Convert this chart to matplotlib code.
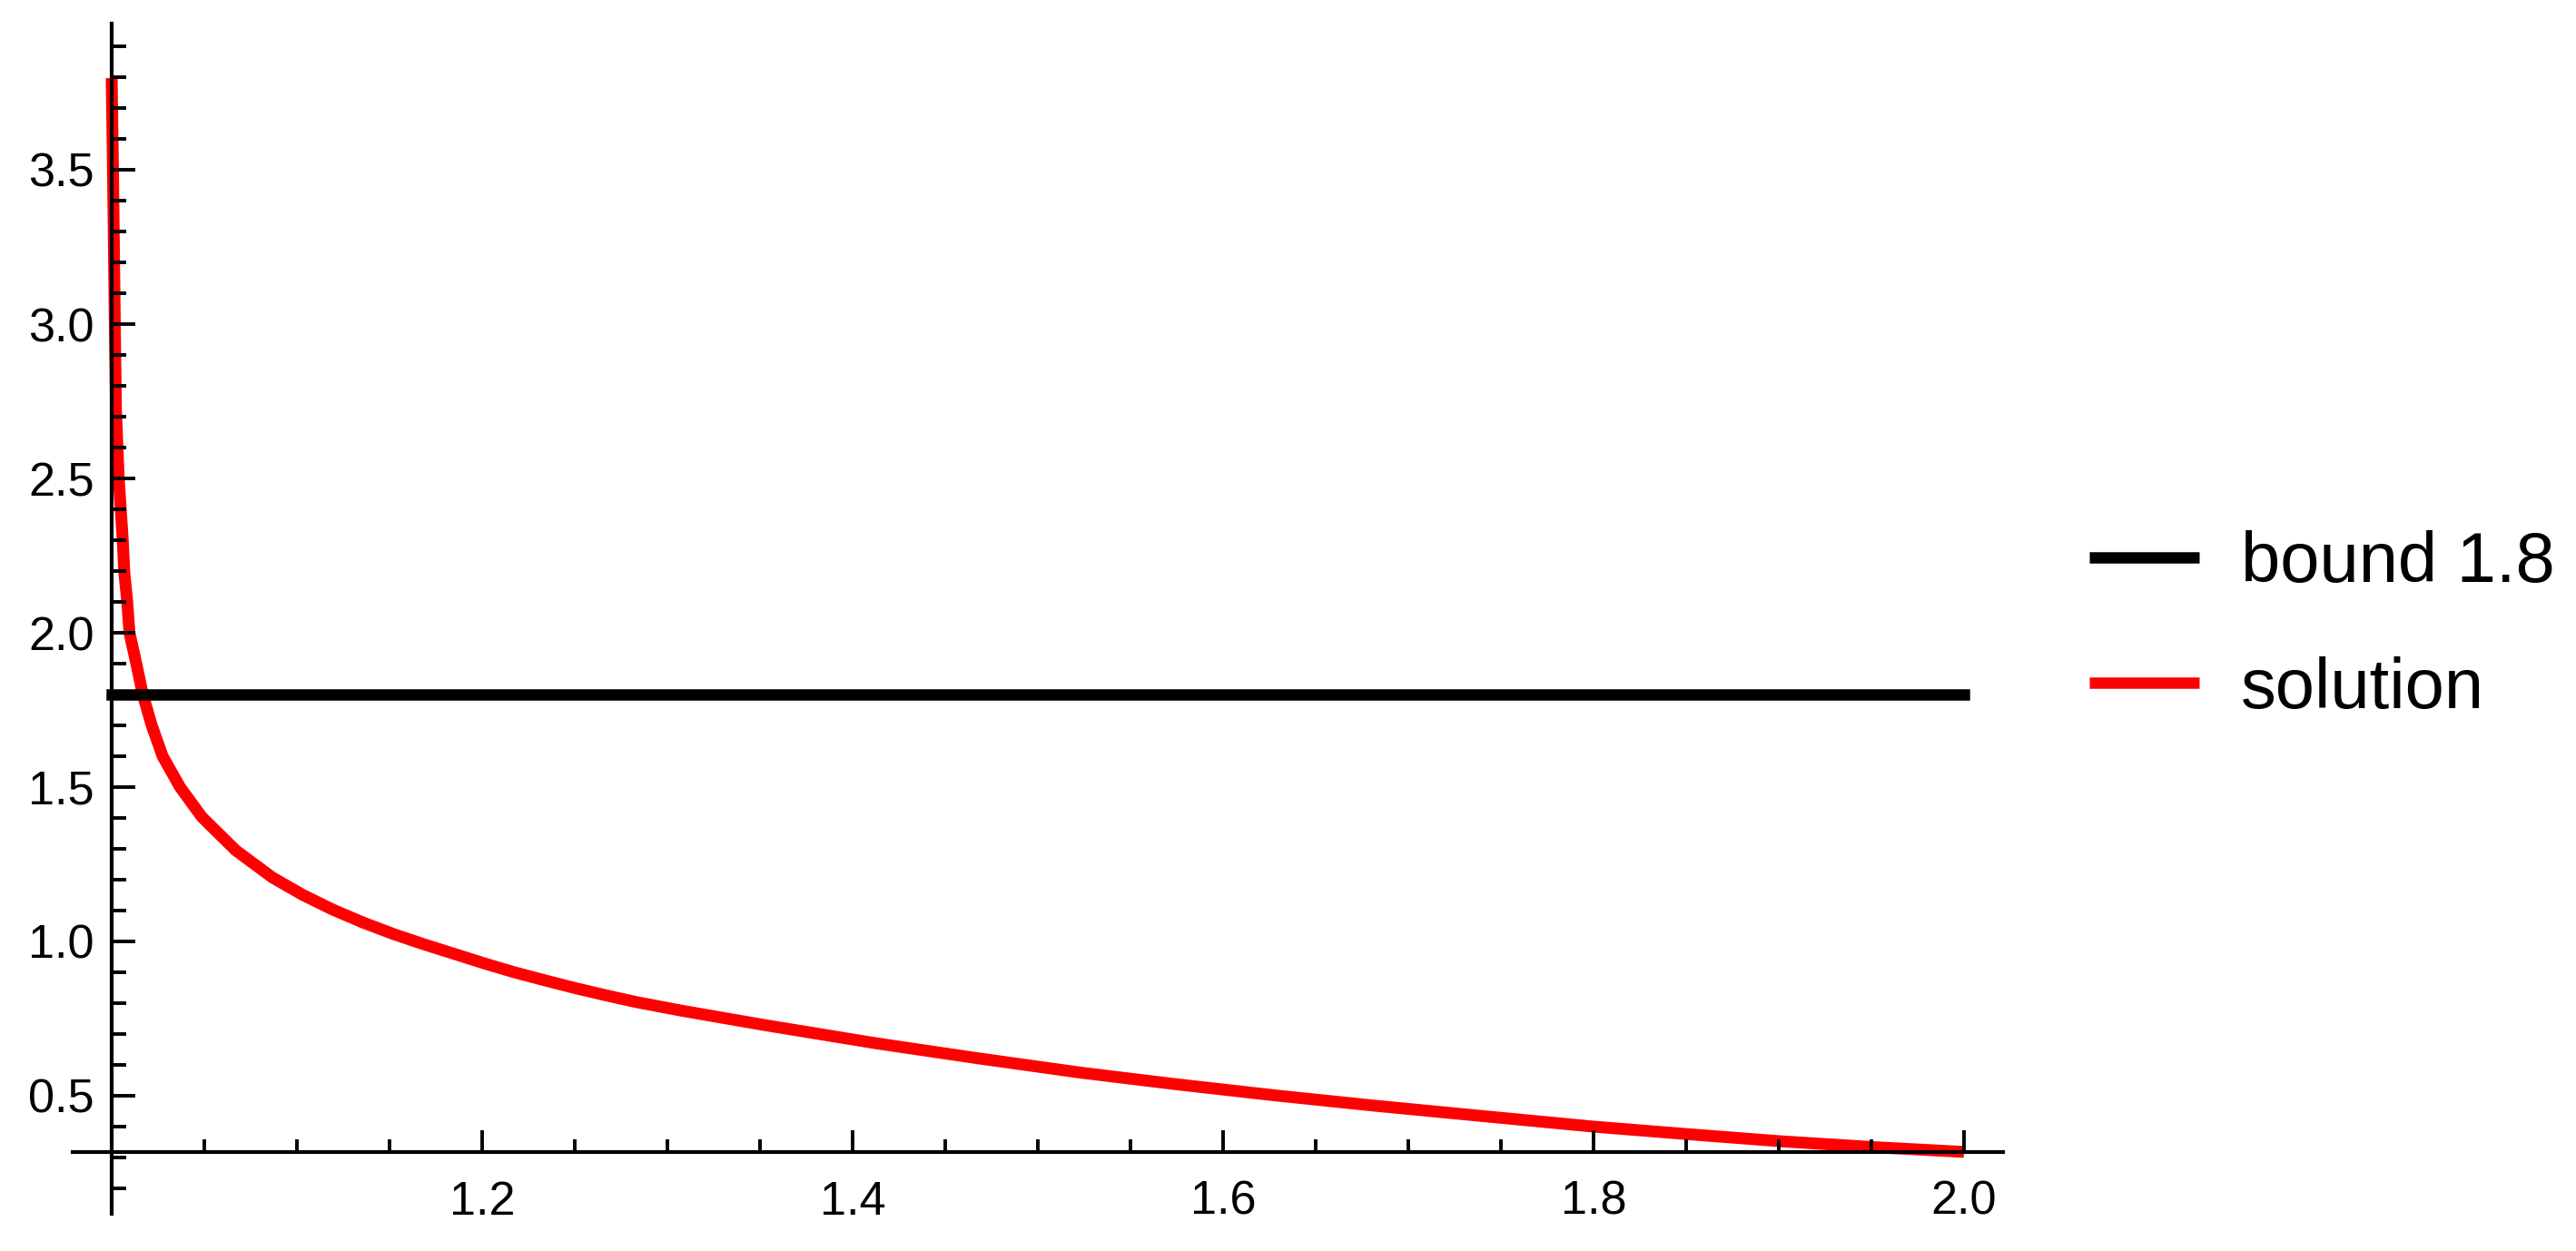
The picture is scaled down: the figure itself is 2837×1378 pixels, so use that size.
import matplotlib
matplotlib.use("Agg")
import matplotlib.pyplot as plt
from matplotlib.ticker import FixedLocator, FixedFormatter

# ---- data ----
sol_x = [1.0000, 1.0007, 1.0017, 1.0023, 1.0038, 1.0060, 1.0068, 1.0084, 1.0096,
         1.0133, 1.0168, 1.0216, 1.0275, 1.0369, 1.0487, 1.0670, 1.0868, 1.1031,
         1.1194, 1.1358, 1.1521, 1.1684, 1.1848, 1.2011, 1.2174, 1.2338, 1.2501,
         1.2664, 1.2828, 1.3074, 1.3515, 1.4127, 1.4658, 1.5230, 1.5737, 1.6284,
         1.6815, 1.7387, 1.8000, 1.8500, 1.9000, 1.9500, 2.0000]
sol_y = [3.797, 3.500, 3.000, 2.726, 2.500, 2.299, 2.196, 2.100, 2.000,
         1.900, 1.800, 1.700, 1.600, 1.500, 1.403, 1.295, 1.207, 1.151,
         1.103, 1.061, 1.024, 0.991, 0.960, 0.929, 0.900, 0.874, 0.849,
         0.826, 0.804, 0.776, 0.730, 0.670, 0.623, 0.575, 0.538, 0.501,
         0.468, 0.435, 0.400, 0.376, 0.353, 0.334, 0.318]
bound_x = [1.0, 2.0]
bound_y = [1.8, 1.8]
labels = ["bound 1.8", "solution"]

x_major = [1.2, 1.4, 1.6, 1.8, 2.0]
x_major_labels = ["1.2", "1.4", "1.6", "1.8", "2.0"]
y_major = [0.5, 1.0, 1.5, 2.0, 2.5, 3.0, 3.5]
y_major_labels = ["0.5", "1.0", "1.5", "2.0", "2.5", "3.0", "3.5"]

x_minor = [1.0 + 0.05 * i for i in range(1, 20) if i % 4 != 0]
y_minor = [0.1 * i for i in range(2, 40) if i % 5 != 0]

plt.rcParams['font.family'] = ['Liberation Sans', 'DejaVu Sans']

W, H, DPI = 2837, 1378, 200
fig = plt.figure(figsize=(W / DPI, H / DPI), dpi=DPI)

xlim = (0.979, 2.021)
ylim = (0.118, 3.974)
# pixel mapping: x=1 -> 123px, 2040 px/unit ; y=3.5 -> 187px from top, 340 px/unit
left_px = 123 + (xlim[0] - 1.0) * 2040
right_px = 123 + (xlim[1] - 1.0) * 2040
top_px = 187 - (ylim[1] - 3.5) * 340
bot_px = 187 + (3.5 - ylim[0]) * 340
ax = fig.add_axes([left_px / W, 1 - bot_px / H, (right_px - left_px) / W, (bot_px - top_px) / H])
ax.set_xlim(*xlim)
ax.set_ylim(*ylim)

for s in ['top', 'right']:
    ax.spines[s].set_visible(False)
ax.spines['left'].set_position(('data', 1.0))
ax.spines['bottom'].set_position(('data', 0.3176))
for s in ['left', 'bottom']:
    ax.spines[s].set_linewidth(1.5)
ax.set_axisbelow(False)

ax.xaxis.set_major_locator(FixedLocator(x_major))
ax.xaxis.set_major_formatter(FixedFormatter(x_major_labels))
ax.xaxis.set_minor_locator(FixedLocator(x_minor))
ax.yaxis.set_major_locator(FixedLocator(y_major))
ax.yaxis.set_major_formatter(FixedFormatter(y_major_labels))
ax.yaxis.set_minor_locator(FixedLocator(y_minor))

ax.tick_params(axis='y', which='major', direction='in', length=9.4, width=1.4, labelsize=18.8, pad=7.0)
ax.tick_params(axis='y', which='minor', direction='in', length=5.8, width=1.4)
ax.tick_params(axis='x', which='major', direction='in', length=8.6, width=1.4, labelsize=18.8, pad=11.0)
ax.tick_params(axis='x', which='minor', direction='in', length=5.0, width=1.4)

l1, = ax.plot(bound_x, bound_y, color='black', lw=4.5, solid_capstyle='projecting', zorder=2.2, clip_on=False)
l2, = ax.plot(sol_x, sol_y, color='#ff0000', lw=4.7, solid_capstyle='butt', solid_joinstyle='round', zorder=2.0, clip_on=False)

leg = fig.legend([l1, l2], labels, loc='center left', bbox_to_anchor=(2301 / W, 1 - 690 / H),
                 frameon=False, fontsize=28.0, borderpad=0, borderaxespad=0,
                 handlelength=1.56, handletextpad=0.59, labelspacing=0.84)
for ln in leg.get_lines():
    ln.set_linewidth(4.5)
    ln.set_solid_capstyle('butt')

fig.savefig("out.png", dpi=DPI)
